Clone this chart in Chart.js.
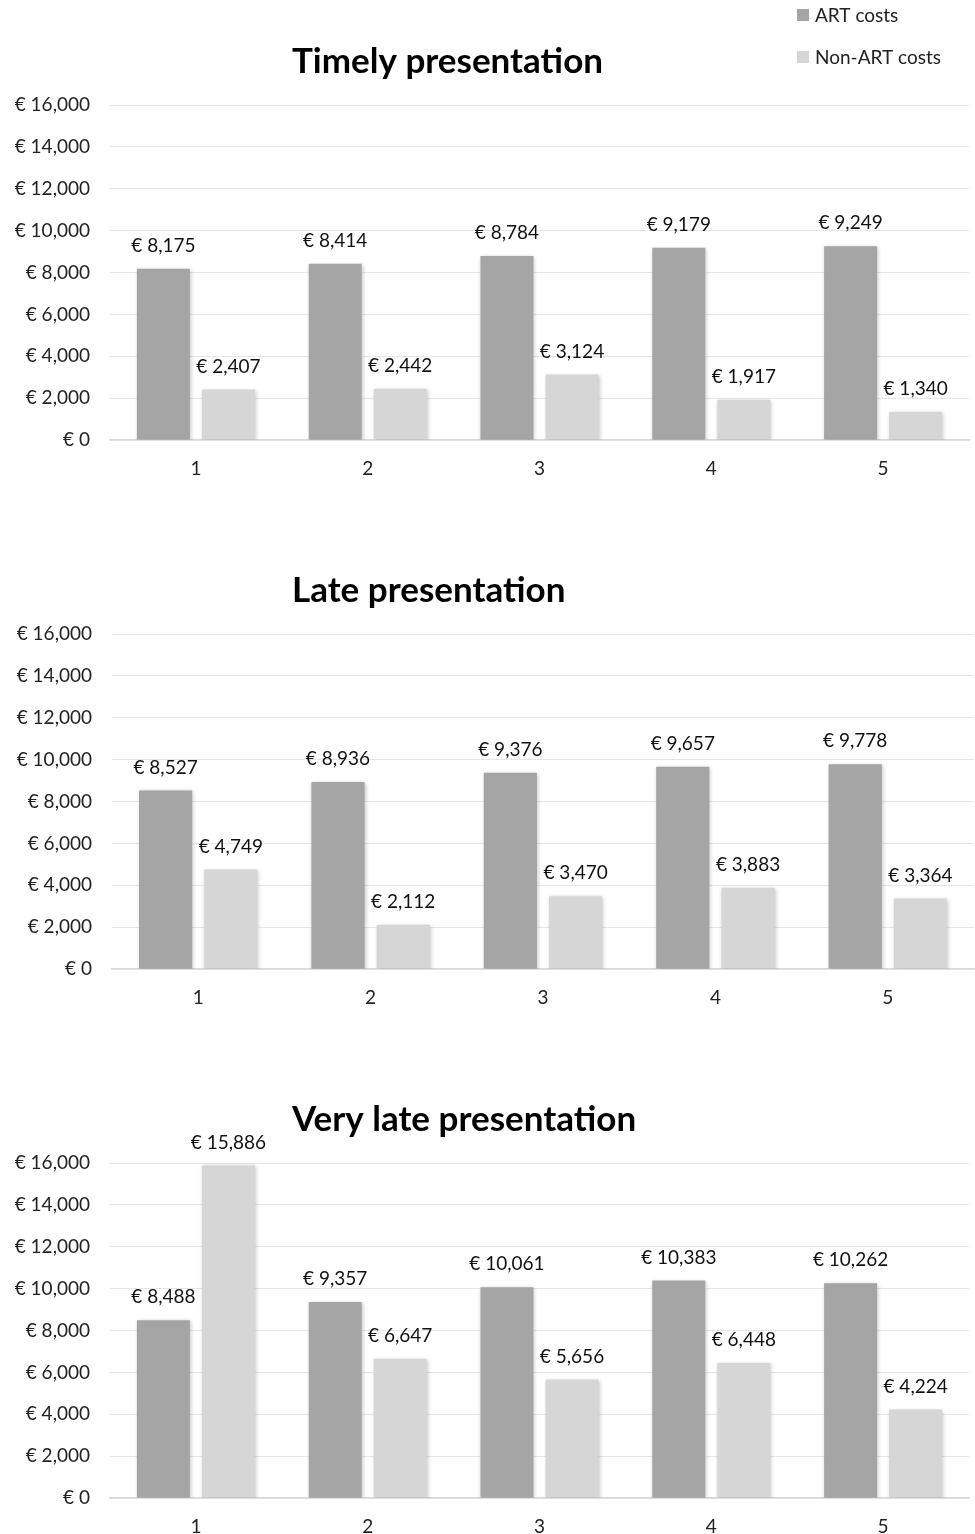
<!DOCTYPE html>
<html>
<head>
<meta charset="utf-8">
<script src="https://cdn.jsdelivr.net/npm/chart.js@4"></script>
<style>
  html, body { margin: 0; padding: 0; background: #fff; }
  .box { position: absolute; left: 0; width: 975px; }
</style>
</head>
<body>
<div class="box" style="top:0;height:529px"><canvas id="c1"></canvas></div>
<div class="box" style="top:529px;height:529px"><canvas id="c2"></canvas></div>
<div class="box" style="top:1058px;height:476px"><canvas id="c3"></canvas></div>
<script>
// data
const years = ['1', '2', '3', '4', '5'];
const seriesNames = ['ART costs', 'Non-ART costs'];
const yTicks = [0, 2000, 4000, 6000, 8000, 10000, 12000, 14000, 16000];

const timelyArt = [8175, 8414, 8784, 9179, 9249];
const timelyNonArt = [2407, 2442, 3124, 1917, 1340];
const lateArt = [8527, 8936, 9376, 9657, 9778];
const lateNonArt = [4749, 2112, 3470, 3883, 3364];
const veryLateArt = [8488, 9357, 10061, 10383, 10262];
const veryLateNonArt = [15886, 6647, 5656, 6448, 4224];

const FONT = 'Lato, "Open Sans", sans-serif';
const colors = ['#a5a5a5', '#d6d6d6'];

function euro(v) {
  return '€ ' + v.toLocaleString('en-US');
}

const shadow = {
  id: 'shadow',
  beforeDatasetsDraw(chart) {
    const ctx = chart.ctx;
    ctx.save();
    ctx.shadowColor = 'rgba(0,0,0,0.22)';
    ctx.shadowBlur = 4;
    ctx.shadowOffsetX = 1;
    ctx.shadowOffsetY = 1;
  },
  afterDatasetsDraw(chart) {
    chart.ctx.restore();
  }
};

const labels = {
  id: 'labels',
  afterDraw(chart, args, opts) {
    const ctx = chart.ctx;
    ctx.save();
    ctx.font = '19px ' + FONT;
    ctx.fillStyle = '#111';
    ctx.textAlign = 'center';
    ctx.textBaseline = 'middle';
    chart.data.datasets.forEach((ds, i) => {
      chart.getDatasetMeta(i).data.forEach((bar, j) => {
        ctx.fillText(euro(ds.data[j]), bar.x, bar.y - 23);
      });
    });
    // title, left aligned like the original
    ctx.font = 'bold 35px ' + FONT;
    ctx.textAlign = 'left';
    ctx.fillStyle = '#000';
    ctx.fillText(opts.title, 292, 62);
    if (opts.legend) {
      ctx.font = '19px ' + FONT;
      chart.data.datasets.forEach((ds, i) => {
        const y = 15 + i * 42;
        ctx.fillStyle = ds.backgroundColor;
        ctx.fillRect(797, y - 6, 12, 12);
        ctx.fillStyle = '#222';
        ctx.fillText(ds.label, 815, y + 1);
      });
    }
    ctx.restore();
  }
};

function makeChart(id, title, art, nonArt, yWidth, padRight, legend) {
  const h = document.getElementById(id).parentNode.clientHeight;
  return new Chart(document.getElementById(id), {
    type: 'bar',
    data: {
      labels: years,
      datasets: [
        { label: seriesNames[0], data: art, backgroundColor: colors[0] },
        { label: seriesNames[1], data: nonArt, backgroundColor: colors[1] }
      ]
    },
    options: {
      responsive: true,
      maintainAspectRatio: false,
      animation: false,
      categoryPercentage: 0.757,
      barPercentage: 0.815,
      layout: { padding: { top: 105, right: padRight, left: 0, bottom: 0 } },
      plugins: {
        legend: { display: false },
        tooltip: { enabled: false },
        labels: { title: title, legend: legend }
      },
      scales: {
        x: {
          grid: { display: false, drawTicks: false },
          border: { color: '#d9d9d9', width: 1.5 },
          ticks: { color: '#222', font: { family: FONT, size: 19 }, padding: 17 },
          afterFit(s) { s.height = h - 105 - 335; }
        },
        y: {
          min: 0,
          max: 16000,
          afterBuildTicks(s) { s.ticks = yTicks.map(v => ({ value: v })); },
          grid: { color: '#e6e6e6', drawTicks: false },
          border: { display: false },
          ticks: {
            color: '#222',
            font: { family: FONT, size: 19 },
            padding: 20,
            callback: v => euro(v)
          },
          afterFit(s) { s.width = yWidth; }
        }
      }
    },
    plugins: [shadow, labels]
  });
}

makeChart('c1', 'Timely presentation', timelyArt, timelyNonArt, 110, 6, true);
makeChart('c2', 'Late presentation', lateArt, lateNonArt, 112, 1, false);
makeChart('c3', 'Very late presentation', veryLateArt, veryLateNonArt, 110, 6, false);
</script>
</body>
</html>
